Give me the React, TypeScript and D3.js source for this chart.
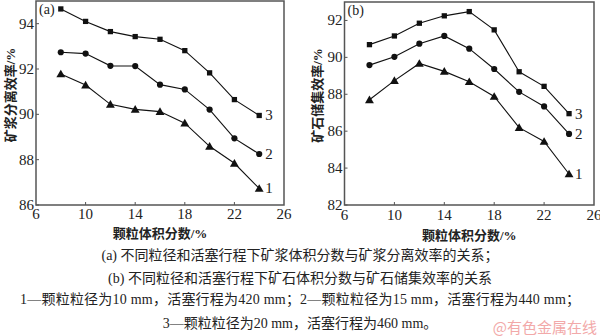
import React from "react";
import * as d3 from "d3";

const xValues = [8, 10, 12, 14, 16, 18, 20, 22, 24];
const xTicks = [6, 10, 14, 18, 22, 26];

// Panel (a): 矿浆分离效率
const aSeries1 = [91.78, 91.29, 90.44, 90.22, 90.12, 89.61, 88.59, 87.84, 86.73];
const aSeries2 = [92.74, 92.68, 92.14, 92.13, 91.31, 91.1, 90.21, 88.94, 88.25];
const aSeries3 = [94.65, 94.1, 93.65, 93.43, 93.31, 92.81, 91.83, 90.65, 89.95];
const aYTicks = [86, 88, 90, 92, 94];

// Panel (b): 矿石储集效率
const bSeries1 = [87.7, 88.74, 89.67, 89.24, 88.68, 87.88, 86.19, 85.44, 83.68];
const bSeries2 = [89.58, 90.03, 90.74, 91.16, 90.47, 89.37, 88.13, 87.34, 85.85];
const bSeries3 = [90.69, 91.16, 91.85, 92.25, 92.48, 91.49, 89.22, 88.43, 86.95];
const bYTicks = [82, 84, 86, 88, 90, 92];

const seriesNames = ["1", "2", "3"];
const captions = [
  "(a) 不同粒径和活塞行程下矿浆体积分数与矿浆分离效率的关系；",
  "(b) 不同粒径和活塞行程下矿石体积分数与矿石储集效率的关系",
  "1—颗粒粒径为10 mm，活塞行程为420 mm；2—颗粒粒径为15 mm，活塞行程为440 mm；",
  "3—颗粒粒径为20 mm，活塞行程为460 mm。",
];

const FONT = "'Liberation Serif', 'Times New Roman', 'Noto Sans CJK SC', serif";
const CJK = "'Liberation Serif', 'Noto Sans CJK SC', sans-serif";

type PanelProps = {
  x0: number;
  x1: number;
  y0: number;
  y1: number;
  yDomain: [number, number];
  yTicks: number[];
  series: number[][];
  label: string;
  yTitle: string;
  yTitleX: number;
  xTitleY: number;
  tickLabelY: number;
};

const symbolTypes = [d3.symbolTriangle, d3.symbolCircle, d3.symbolSquare];
const symbolSizes = [34, 30, 28];

function Panel(p: PanelProps) {
  const x = d3.scaleLinear().domain([6, 26]).range([p.x0, p.x1]);
  const y = d3.scaleLinear().domain(p.yDomain).range([p.y1, p.y0]);
  const line = d3
    .line<number>()
    .x((_, i) => x(xValues[i]))
    .y((d) => y(d));
  const frameColor = "#555";
  return (
    <g>
      <rect
        x={p.x0}
        y={p.y0}
        width={p.x1 - p.x0}
        height={p.y1 - p.y0}
        fill="none"
        stroke={frameColor}
        strokeWidth={1.5}
      />
      {xTicks.map((t) => (
        <g key={"xt" + t}>
          {t !== 6 && t !== 26 && (
            <line x1={x(t)} x2={x(t)} y1={p.y1} y2={p.y1 - 3} stroke={frameColor} strokeWidth={1} />
          )}
          <text
            x={x(t)}
            y={p.tickLabelY}
            textAnchor="middle"
            fontFamily={FONT}
            fontSize={15}
            fill="#222"
          >
            {t}
          </text>
        </g>
      ))}
      {p.yTicks.map((t) => (
        <g key={"yt" + t}>
          <line x1={p.x0} x2={p.x0 + 3} y1={y(t)} y2={y(t)} stroke={frameColor} strokeWidth={1} />
          <text
            x={p.x0 - 2}
            y={y(t) + 5}
            textAnchor="end"
            fontFamily={FONT}
            fontSize={15}
            fill="#222"
          >
            {t}
          </text>
        </g>
      ))}
      <text x={p.x0 + 3} y={p.y0 + 13} fontFamily={FONT} fontSize={14} fill="#222">
        {p.label}
      </text>
      {p.series.map((s, si) => (
        <g key={"s" + si}>
          <path d={line(s) || ""} fill="none" stroke="#111" strokeWidth={1.1} />
          {s.map((v, i) => (
            <path
              key={i}
              transform={`translate(${x(xValues[i])},${y(v) + (si === 0 ? 0.8 : 0)})`}
              d={d3.symbol().type(symbolTypes[si]).size(symbolSizes[si])() || ""}
              fill="#111"
            />
          ))}
          <text
            x={x(xValues[s.length - 1]) + 6}
            y={y(s[s.length - 1]) + 5}
            fontFamily={FONT}
            fontSize={15}
            fill="#222"
          >
            {seriesNames[si]}
          </text>
        </g>
      ))}
      <text
        transform={`translate(${p.yTitleX},${(p.y0 + p.y1) / 2 - 8}) rotate(-90)`}
        textAnchor="middle"
        dominantBaseline="middle"
        fontFamily={CJK}
        fontSize={13}
        fontWeight="bold"
        fill="#222"
      >
        {p.yTitle}
      </text>
      <text
        x={(p.x0 + p.x1) / 2}
        y={p.xTitleY}
        textAnchor="middle"
        fontFamily={CJK}
        fontSize={13}
        fontWeight="bold"
        fill="#222"
      >
        颗粒体积分数/%
      </text>
    </g>
  );
}

export default function App() {
  return (
    <svg
      width={600}
      height={336}
      style={{ position: "absolute", left: 0, top: 0, background: "#fff" }}
    >
      <rect width={600} height={336} fill="#fff" />
      <Panel
        x0={36}
        x1={284}
        y0={1}
        y1={205}
        yDomain={[86, 95]}
        yTicks={aYTicks}
        series={[aSeries1, aSeries2, aSeries3]}
        label="(a)"
        yTitle="矿浆分离效率/%"
        yTitleX={12}
        xTitleY={238}
        tickLabelY={219}
      />
      <Panel
        x0={344.5}
        x1={594}
        y0={2}
        y1={205}
        yDomain={[82, 93]}
        yTicks={bYTicks}
        series={[bSeries1, bSeries2, bSeries3]}
        label="(b)"
        yTitle="矿石储集效率/%"
        yTitleX={319}
        xTitleY={240}
        tickLabelY={220}
      />
      {captions.map((c, i) => (
        <text
          key={i}
          x={300}
          y={[260, 283, 304, 328][i]}
          textAnchor="middle"
          fontFamily={CJK}
          fontSize={14}
          fill="#222"
          {...(i === 2 ? { textLength: 560, lengthAdjust: "spacing" } : {})}
        >
          {c}
        </text>
      ))}
      <text
        x={597}
        y={333}
        textAnchor="end"
        fontFamily="'Noto Sans CJK SC', sans-serif"
        fontSize={15}
        fill="#f2a9a9"
      >
        @有色金属在线
      </text>
    </svg>
  );
}
